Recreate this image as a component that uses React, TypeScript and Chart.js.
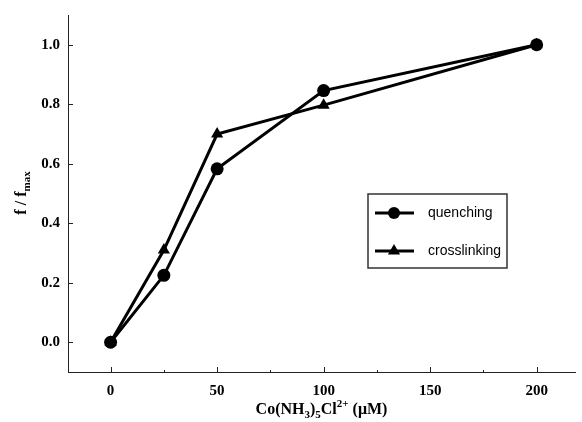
import React, { useEffect, useRef } from "react";
import { Chart, registerables } from "chart.js";

Chart.register(...registerables);

// ---- data ----
const concentrations = [0, 25, 50, 100, 200];
const quenching = [0, 0.225, 0.583, 0.846, 1.0];
const crosslinking = [0, 0.31, 0.7, 0.797, 1.0];
const seriesNames = ["quenching", "crosslinking"];
const xMinorTicks = [25, 75, 125, 175];
const xLabelValues = [0, 50, 100, 150, 200];
const yTickValues = [0, 0.2, 0.4, 0.6, 0.8, 1.0];
const xTitleParts: [string, string][] = [
  ["Co(NH", "n"],
  ["3", "sub"],
  [")", "n"],
  ["5", "sub"],
  ["Cl", "n"],
  ["2+", "sup"],
  [" (\u03BCM)", "n"],
];
const yTitleParts: [string, string][] = [
  ["f / f", "n"],
  ["max", "sub"],
];

const SERIF = '"Liberation Serif", "Times New Roman", serif';
const SANS = '"Liberation Sans", Arial, sans-serif';

function drawRich(ctx: CanvasRenderingContext2D, parts: [string, string][], size: number) {
  const fontFor = (k: string) => `bold ${k === "n" ? size : Math.round(size * 0.68)}px ${SERIF}`;
  let total = 0;
  const widths = parts.map(([t, k]) => {
    ctx.font = fontFor(k);
    const w = ctx.measureText(t).width;
    total += w;
    return w;
  });
  let x = -total / 2;
  ctx.textBaseline = "alphabetic";
  ctx.textAlign = "left";
  parts.forEach(([t, k], i) => {
    ctx.font = fontFor(k);
    const dy = k === "sub" ? size * 0.28 : k === "sup" ? -size * 0.42 : 0;
    ctx.fillText(t, x, dy);
    x += widths[i];
  });
}

const titlePlugin = {
  id: "richTitles",
  afterDraw(chart: any) {
    const { ctx, chartArea } = chart;
    ctx.save();
    ctx.fillStyle = "#000";
    ctx.translate((chartArea.left + chartArea.right) / 2, 414);
    drawRich(ctx, xTitleParts, 16);
    ctx.restore();

    ctx.save();
    ctx.fillStyle = "#000";
    ctx.translate(26, 193);
    ctx.rotate(-Math.PI / 2);
    drawRich(ctx, yTitleParts, 16);
    ctx.restore();
  },
};

const tickPlugin = {
  id: "inwardTicks",
  beforeDatasetsDraw(chart: any) {
    const { ctx, chartArea } = chart;
    const x = chart.scales.x;
    const y = chart.scales.y;
    ctx.save();
    ctx.strokeStyle = "#222";
    ctx.lineWidth = 1;
    ctx.beginPath();
    xLabelValues.forEach((v) => {
      const px = Math.round(x.getPixelForValue(v)) + 0.5;
      ctx.moveTo(px, chartArea.bottom);
      ctx.lineTo(px, chartArea.bottom - 5);
    });
    xMinorTicks.forEach((v) => {
      const px = Math.round(x.getPixelForValue(v)) + 0.5;
      ctx.moveTo(px, chartArea.bottom);
      ctx.lineTo(px, chartArea.bottom - 2);
    });
    yTickValues.forEach((v) => {
      const py = Math.round(y.getPixelForValue(v)) + 0.5;
      ctx.moveTo(chartArea.left, py);
      ctx.lineTo(chartArea.left + 5, py);
    });
    ctx.stroke();
    ctx.restore();
  },
};

const legendPlugin = {
  id: "boxLegend",
  afterDraw(chart: any) {
    const { ctx } = chart;
    const left = 368, top = 194, right = 507, bottom = 268;
    const rows = [213, 251];
    ctx.save();
    ctx.fillStyle = "#fff";
    ctx.fillRect(left, top, right - left, bottom - top);
    ctx.strokeStyle = "#333";
    ctx.lineWidth = 1.5;
    ctx.strokeRect(left, top, right - left, bottom - top);
    chart.data.datasets.forEach((ds: any, i: number) => {
      const yy = rows[i];
      ctx.strokeStyle = "#000";
      ctx.lineWidth = 3;
      ctx.beginPath();
      ctx.moveTo(375, yy);
      ctx.lineTo(414, yy);
      ctx.stroke();
      ctx.fillStyle = "#000";
      ctx.beginPath();
      const cx = 394;
      if (ds.pointStyle === "triangle") {
        const r = 7;
        const edge = (3 * r) / Math.sqrt(3);
        const h = (edge * Math.sqrt(3)) / 2;
        ctx.moveTo(cx - edge / 2, yy + h / 3);
        ctx.lineTo(cx + edge / 2, yy + h / 3);
        ctx.lineTo(cx, yy - (2 * h) / 3);
        ctx.closePath();
      } else {
        ctx.arc(cx, yy, 6, 0, Math.PI * 2);
      }
      ctx.fill();
      ctx.font = `14px ${SANS}`;
      ctx.textAlign = "left";
      ctx.textBaseline = "middle";
      ctx.fillText(ds.label, 428, yy);
    });
    ctx.restore();
  },
};

export default function App() {
  const ref = useRef<HTMLCanvasElement>(null);
  useEffect(() => {
    if (!ref.current) return;
    const chart = new Chart(ref.current, {
      type: "line",
      data: {
        datasets: [
          {
            label: seriesNames[0],
            data: concentrations.map((c, i) => ({ x: c, y: quenching[i] })),
            borderColor: "#000",
            backgroundColor: "#000",
            borderWidth: 3,
            pointStyle: "circle",
            pointRadius: 6.5,
            pointBorderWidth: 0,
            pointBackgroundColor: "#000",
            tension: 0,
          },
          {
            label: seriesNames[1],
            data: concentrations.map((c, i) => ({ x: c, y: crosslinking[i] })),
            borderColor: "#000",
            backgroundColor: "#000",
            borderWidth: 3,
            pointStyle: "triangle",
            pointRadius: 7,
            pointBorderWidth: 0,
            pointBackgroundColor: "#000",
            tension: 0,
          },
        ],
      },
      options: {
        animation: false,
        responsive: false,
        maintainAspectRatio: false,
        layout: { padding: { top: 15, right: 0, left: 0, bottom: 0 } },
        plugins: {
          legend: { display: false },
          tooltip: { enabled: false },
          title: { display: false },
        },
        scales: {
          x: {
            type: "linear",
            min: -20,
            max: 218,
            grid: { display: false, drawTicks: false },
            border: { display: true, color: "#222", width: 1 },
            afterBuildTicks: (s: any) => {
              s.ticks = xLabelValues.map((v) => ({ value: v }));
            },
            afterFit: (s: any) => {
              s.height = 50;
              s.paddingLeft = 0;
              s.paddingRight = 0;
            },
            ticks: {
              autoSkip: false,
              maxRotation: 0,
              padding: 10,
              color: "#000",
              font: { family: SERIF, size: 15, weight: "bold" },
              callback: (v: any) => String(v),
            },
          },
          y: {
            type: "linear",
            min: -0.1,
            max: 1.1,
            grid: { display: false, drawTicks: false },
            border: { display: true, color: "#222", width: 1 },
            afterBuildTicks: (s: any) => {
              s.ticks = yTickValues.map((v) => ({ value: v }));
            },
            afterFit: (s: any) => {
              s.width = 68;
              s.paddingTop = 0;
              s.paddingBottom = 0;
            },
            ticks: {
              autoSkip: false,
              padding: 8,
              color: "#000",
              font: { family: SERIF, size: 15, weight: "bold" },
              callback: (v: any) => Number(v).toFixed(1),
            },
          },
        },
      },
      plugins: [tickPlugin, legendPlugin, titlePlugin],
    });
    return () => chart.destroy();
  }, []);
  return (
    <div style={{ position: "absolute", left: 0, top: 0, width: 582, height: 422, background: "#fff" }}>
      <canvas ref={ref} width={582} height={422} style={{ display: "block" }} />
    </div>
  );
}
